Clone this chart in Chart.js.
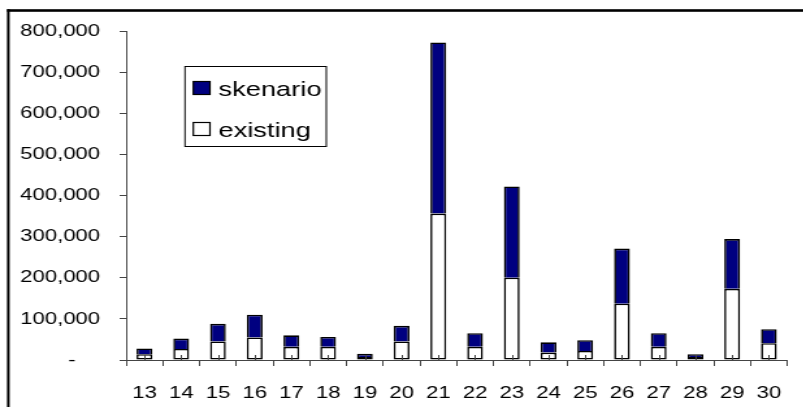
<!DOCTYPE html>
<html>
<head>
<meta charset="utf-8">
<script src="https://cdn.jsdelivr.net/npm/chart.js@4/dist/chart.umd.min.js"></script>
<style>
  html, body { margin: 0; padding: 0; background: #fff; overflow: hidden; }
  #wrap { position: absolute; left: 0; top: 0; width: 803px; height: 407px; overflow: hidden; }
  /* the chart is laid out narrow and widened horizontally */
  #chart { position: absolute; left: 0; top: 0; transform: scaleX(1.3); transform-origin: 0 0; }
</style>
</head>
<body>
<div id="wrap"><canvas id="chart" width="618" height="407"></canvas></div>
<script>
const categories = ['13','14','15','16','17','18','19','20','21','22','23','24','25','26','27','28','29','30'];
const existing = [14000, 27000, 45000, 55000, 32000, 32000, 7000, 45000, 356000, 32000, 200000, 18000, 22000, 137000, 32000, 7000, 173000, 41000];
const skenario = [14000, 25000, 43000, 55000, 28000, 24000, 8000, 38000, 416000, 33000, 222000, 25000, 26000, 134000, 33000, 7000, 121000, 34000];
const yTicks = { min: 0, max: 800000, step: 100000 };

const FONT = "'Liberation Sans', Arial, sans-serif";
const AXIS = '#444444';
const NAVY = '#000080';

// outer frame, inner category ticks and the boxed legend
const decor = {
  id: 'decor',
  afterDatasetsDraw(chart) {
    const { ctx, chartArea, scales } = chart;
    const xs = scales.x;
    ctx.save();
    ctx.strokeStyle = AXIS;
    ctx.lineWidth = 1;
    for (let i = 0; i < categories.length; i++) {
      const x = Math.round(xs.getPixelForValue(i)) + 0.5;
      ctx.beginPath();
      ctx.moveTo(x, chartArea.bottom);
      ctx.lineTo(x, chartArea.bottom - 5);
      ctx.stroke();
    }
    ctx.restore();
  },
  afterDraw(chart) {
    const { ctx } = chart;
    ctx.save();
    // frame
    ctx.fillStyle = '#000';
    ctx.fillRect(5.4, 9.2, 2, 420);
    ctx.fillRect(5.4, 9.2, 640, 2.6);
    // legend
    const bx = 141.8, by = 66, bw = 108.7, bh = 80;
    ctx.fillStyle = '#fff';
    ctx.fillRect(bx, by, bw, bh);
    ctx.strokeStyle = '#000';
    ctx.lineWidth = 1;
    ctx.strokeRect(bx + 0.5, by + 0.5, bw, bh);
    const ds = chart.data.datasets.slice().reverse();
    ctx.font = '21px ' + FONT;
    ctx.textBaseline = 'alphabetic';
    ds.forEach((d, i) => {
      const my = 81.5 + i * 41;
      ctx.fillStyle = d.backgroundColor;
      ctx.fillRect(148.7, my, 12.8, 13);
      ctx.lineWidth = 1.2;
      ctx.strokeStyle = '#000';
      ctx.strokeRect(148.7, my, 12.8, 13);
      ctx.fillStyle = '#000';
      ctx.fillText(d.label, 168, my + 14.5);
    });
    ctx.restore();
  }
};

new Chart(document.getElementById('chart'), {
  type: 'bar',
  data: {
    labels: categories,
    datasets: [
      { label: 'existing', data: existing, backgroundColor: '#ffffff', borderColor: '#000', borderWidth: 1.6, borderSkipped: false },
      { label: 'skenario', data: skenario, backgroundColor: NAVY, borderColor: '#000', borderWidth: 1.6, borderSkipped: 'bottom' }
    ]
  },
  options: {
    responsive: false,
    animation: false,
    devicePixelRatio: 1,
    layout: { padding: { top: 31, right: 4, left: 0, bottom: 0 } },
    plugins: { legend: { display: false }, tooltip: { enabled: false } },
    datasets: { bar: { barPercentage: 0.43, categoryPercentage: 1.0 } },
    scales: {
      x: {
        stacked: true,
        afterFit(s) { s.height = 47; },
        grid: { display: true, offset: true, drawOnChartArea: false, drawTicks: true, tickLength: 6, color: AXIS },
        border: { display: true, color: AXIS, width: 1 },
        ticks: { color: '#000', font: { family: FONT, size: 17 }, padding: 17, maxRotation: 0, autoSkip: false }
      },
      y: {
        stacked: true,
        min: yTicks.min,
        max: yTicks.max,
        afterFit(s) { s.width = 97; },
        grid: { display: true, drawOnChartArea: false, drawTicks: true, tickLength: 5, color: AXIS },
        border: { display: true, color: AXIS, width: 1 },
        ticks: {
          stepSize: yTicks.step,
          color: '#000',
          padding: 15,
          font: { family: FONT, size: 17 },
          callback: v => v === 0 ? '-    ' : v.toLocaleString('en-US')
        }
      }
    }
  },
  plugins: [decor]
});
</script>
</body>
</html>
